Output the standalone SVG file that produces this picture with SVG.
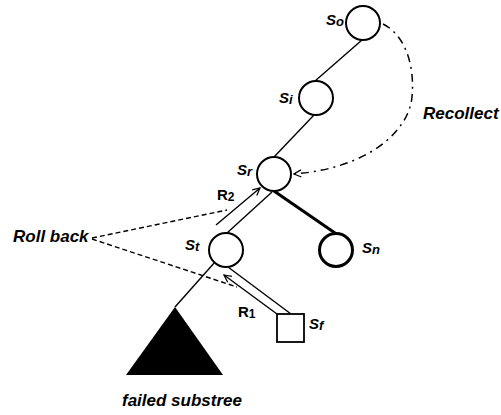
<svg xmlns="http://www.w3.org/2000/svg" width="501" height="415" viewBox="0 0 501 415">
<style>
.node{fill:#fff;stroke:#000;stroke-width:2}
.thick{stroke-width:3}
.edge{stroke:#000;stroke-width:1.4;fill:none}
.lbl{font-family:"Liberation Sans",Arial,sans-serif;font-weight:bold;font-style:italic;font-size:15px;fill:#000}
.big{font-family:"Liberation Sans",Arial,sans-serif;font-weight:bold;font-style:italic;font-size:17px;fill:#000}
.r{font-family:"Liberation Sans",Arial,sans-serif;font-weight:bold;font-size:15px;fill:#000}
.dash{stroke:#000;stroke-width:1.4;fill:none;stroke-dasharray:5,3}
.dashdot{stroke:#000;stroke-width:1.5;fill:none;stroke-dasharray:8,5,2,5}
</style>
<defs>
<marker id="arr" viewBox="0 0 10 10" refX="9" refY="5" markerWidth="9" markerHeight="9" markerUnits="userSpaceOnUse" orient="auto">
<path d="M1,1 L9,5 L1,9" fill="none" stroke="#000" stroke-width="1.4"/>
</marker>
</defs>
<g id="connectors">
<line class="edge" x1="362" y1="40" x2="315" y2="81"/>
<line class="edge" x1="314" y1="115" x2="274" y2="157"/>
<line class="edge" x1="272" y1="192" x2="227" y2="233"/>
<line class="edge" x1="274" y1="191" x2="335" y2="233" style="stroke-width:3"/>
<line class="edge" x1="215" y1="262" x2="175" y2="307"/>
<line class="edge" x1="228" y1="267" x2="291" y2="314"/>
<line class="edge" x1="216" y1="225" x2="260" y2="188" marker-end="url(#arr)"/>
<line class="edge" x1="277" y1="314" x2="224" y2="275" marker-end="url(#arr)"/>
<path class="dash" d="M92,238 L227,210"/>
<path class="dash" d="M92,239 L237,287"/>
<path class="dashdot" d="M383,24 C405,35 415,65 412,97 C409,130 370,168 294,174" marker-end="url(#arr)"/>
</g>
<g id="So"><circle class="node" cx="363" cy="23" r="17"/><text class="lbl" x="326" y="25">S<tspan font-size="13" dy="1">o</tspan></text></g>
<g id="Si"><circle class="node" cx="316" cy="98" r="17"/><text class="lbl" x="279" y="103">S<tspan font-size="13" dy="1">i</tspan></text></g>
<g id="Sr"><circle class="node" cx="274" cy="174" r="17"/><text class="lbl" x="237" y="175">S<tspan font-size="13" dy="1">r</tspan></text></g>
<g id="St"><circle class="node" cx="226" cy="250" r="17"/><text class="lbl" x="185" y="250">S<tspan font-size="13" dy="1">t</tspan></text></g>
<g id="Sn"><circle class="node thick" cx="336" cy="250" r="16.5"/><text class="lbl" x="362" y="253">S<tspan font-size="13" dy="1">n</tspan></text></g>
<g id="Sf"><rect class="node" x="277" y="314" width="27" height="28" style="stroke-width:1.8"/><text class="lbl" x="309" y="329">S<tspan font-size="13" dy="1">f</tspan></text></g>
<g id="failed"><polygon points="175,307 126,375 223,375" fill="#000"/><text class="big" x="122" y="406">failed substree</text></g>
<g id="labels">
<text class="big" x="423" y="119">Recollect</text>
<text class="big" x="13" y="242">Roll back</text>
<text class="r" x="217" y="200">R<tspan font-size="12" dy="1">2</tspan></text>
<text class="r" x="238" y="317">R<tspan font-size="12" dy="1">1</tspan></text>
</g>
</svg>
